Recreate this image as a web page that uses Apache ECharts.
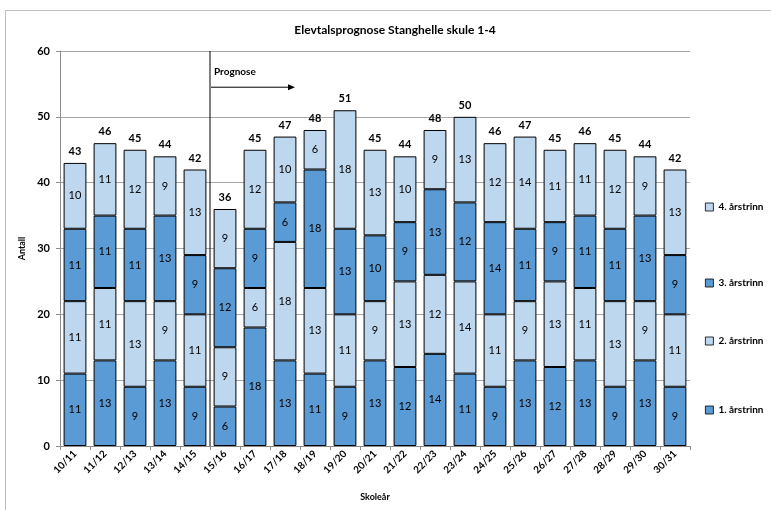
<!DOCTYPE html>
<html lang="no">
<head>
    <meta charset="UTF-8">
    <title>Elevtalsprognose Stanghelle skule 1-4</title>
    <script src="https://cdn.jsdelivr.net/npm/echarts@6/dist/echarts.min.js"></script>
    <style>
        * { margin: 0; padding: 0; }
        body { background: #fff; }
        #main { width: 771px; height: 510px; }
    </style>
</head>
<body>
    <div id="main"></div>

<script>
    // skoleår
    var years = ['10/11', '11/12', '12/13', '13/14', '14/15', '15/16', '16/17', '17/18', '18/19', '19/20',
        '20/21', '21/22', '22/23', '23/24', '24/25', '25/26', '26/27', '27/28', '28/29', '29/30', '30/31'];

    // elevar per årstrinn
    var trinn1 = [11, 13, 9, 13, 9, 6, 18, 13, 11, 9, 13, 12, 14, 11, 9, 13, 12, 13, 9, 13, 9];
    var trinn2 = [11, 11, 13, 9, 11, 9, 6, 18, 13, 11, 9, 13, 12, 14, 11, 9, 13, 11, 13, 9, 11];
    var trinn3 = [11, 11, 11, 13, 9, 12, 9, 6, 18, 13, 10, 9, 13, 12, 14, 11, 9, 11, 11, 13, 9];
    var trinn4 = [10, 11, 12, 9, 13, 9, 12, 10, 6, 18, 13, 10, 9, 13, 12, 14, 11, 11, 12, 9, 13];

    var seriesNames = ['1. årstrinn', '2. årstrinn', '3. årstrinn', '4. årstrinn'];
    var firstPrognoseYear = '15/16';

    var dark = '#5b9bd5';
    var light = '#bdd7ee';
    var font = 'Lato, "Liberation Sans", sans-serif';

    var totals = years.map(function (y, i) {
        return trinn1[i] + trinn2[i] + trinn3[i] + trinn4[i];
    });

    function barSeries(name, data, color) {
        return {
            name: name,
            type: 'bar',
            stack: 'elevar',
            data: data,
            barCategoryGap: '24%',
            itemStyle: { color: color, borderColor: '#000', borderWidth: 1 },
            label: {
                show: true,
                position: 'inside',
                color: '#000',
                fontFamily: font,
                fontSize: 11
            },
            emphasis: { disabled: true }
        };
    }

    function legendAt(name, top) {
        return {
            data: [name],
            orient: 'vertical',
            left: 700,
            top: top,
            icon: 'rect',
            itemWidth: 8,
            itemHeight: 8,
            itemGap: 4,
            itemStyle: { borderColor: '#000', borderWidth: 0.8 },
            textStyle: { fontFamily: font, fontSize: 10, fontWeight: 'bold', color: '#000' },
            selectedMode: false
        };
    }

    var myChart = echarts.init(document.getElementById('main'));

    var option = {
        animation: false,
        title: {
            text: 'Elevtalsprognose Stanghelle skule 1-4',
            left: 390,
            textAlign: 'center',
            top: 19,
            textStyle: { fontFamily: font, fontSize: 12, fontWeight: 'bold', color: '#000' }
        },
        legend: [
            legendAt('4. årstrinn', 197),
            legendAt('3. årstrinn', 273),
            legendAt('2. årstrinn', 331),
            legendAt('1. årstrinn', 400)
        ],
        grid: { left: 60, right: 81, top: 51, bottom: 64 },
        xAxis: {
            type: 'category',
            data: years,
            name: 'Skoleår',
            nameLocation: 'middle',
            nameGap: 47,
            nameTextStyle: { fontFamily: font, fontSize: 9, fontWeight: 'bold', color: '#000' },
            axisLine: { lineStyle: { color: '#8c8c8c' } },
            axisTick: { show: true, length: 4, lineStyle: { color: '#8c8c8c' } },
            axisLabel: {
                rotate: 45,
                fontFamily: font,
                fontSize: 10,
                fontWeight: 'bold',
                color: '#000',
                margin: 6
            }
        },
        yAxis: {
            type: 'value',
            min: 0,
            max: 60,
            interval: 10,
            name: 'Antall',
            nameLocation: 'middle',
            nameRotate: 90,
            nameGap: 30,
            nameTextStyle: { fontFamily: font, fontSize: 9, fontWeight: 'bold', color: '#000' },
            axisLine: { show: true, lineStyle: { color: '#8c8c8c' } },
            axisTick: { show: true, length: 4, lineStyle: { color: '#8c8c8c' } },
            axisLabel: { fontFamily: font, fontSize: 11, fontWeight: 'bold', color: '#000', margin: 10 },
            splitLine: { lineStyle: { color: '#a6a6a6' } }
        },
        series: [
            barSeries(seriesNames[0], trinn1, dark),
            barSeries(seriesNames[1], trinn2, light),
            barSeries(seriesNames[2], trinn3, dark),
            barSeries(seriesNames[3], trinn4, light),
            {
                // totalsum over kvar søyle
                name: 'Sum',
                type: 'bar',
                stack: 'elevar',
                data: years.map(function () { return 0; }),
                itemStyle: { color: 'transparent', borderWidth: 0 },
                label: {
                    show: true,
                    position: 'top',
                    distance: 6,
                    color: '#000',
                    fontFamily: font,
                    fontSize: 11,
                    fontWeight: 'bold',
                    formatter: function (p) { return totals[p.dataIndex]; }
                },
                emphasis: { disabled: true }
            }
        ]
    };
    myChart.setOption(option);

    // prognose-linje mellom 14/15 og 15/16
    var idx = years.indexOf(firstPrognoseYear);
    var xa = myChart.convertToPixel({ xAxisIndex: 0 }, years[idx - 1]);
    var xb = myChart.convertToPixel({ xAxisIndex: 0 }, years[idx]);
    var xLine = (xa + xb) / 2;
    var yTop = myChart.convertToPixel({ yAxisIndex: 0 }, 60);
    var yBottom = myChart.convertToPixel({ yAxisIndex: 0 }, 0);
    var yArrow = myChart.convertToPixel({ yAxisIndex: 0 }, 54.5);
    var arrowEnd = myChart.convertToPixel({ xAxisIndex: 0 }, years[idx + 2]) + 10;

    myChart.setOption({
        graphic: [
            {
                type: 'rect',
                shape: { x: 5.5, y: 10.5, width: 800, height: 600 },
                style: { fill: 'none', stroke: '#bfbfbf', lineWidth: 1 },
                silent: true
            },
            {
                type: 'line',
                shape: { x1: xLine, y1: yTop, x2: xLine, y2: yBottom },
                style: { stroke: '#000', lineWidth: 1 },
                z: 10
            },
            {
                type: 'line',
                shape: { x1: xLine + 1, y1: yArrow, x2: arrowEnd - 6, y2: yArrow },
                style: { stroke: '#000', lineWidth: 1 },
                z: 10
            },
            {
                type: 'polygon',
                shape: { points: [[arrowEnd, yArrow], [arrowEnd - 7, yArrow - 3], [arrowEnd - 7, yArrow + 3]] },
                style: { fill: '#000' },
                z: 10
            },
            {
                type: 'text',
                x: xLine + 4,
                y: yArrow - 20,
                style: {
                    text: 'Prognose',
                    fill: '#000',
                    font: 'bold 10px ' + font
                },
                z: 10
            }
        ]
    });
</script>
</body>
</html>
